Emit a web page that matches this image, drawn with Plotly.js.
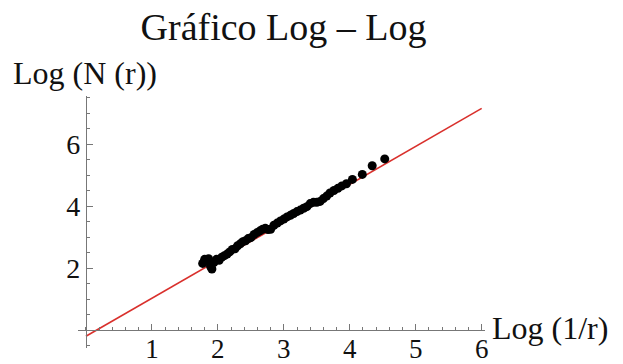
<!DOCTYPE html>
<html>
<head>
<meta charset="utf-8">
<script src="https://cdn.plot.ly/plotly-3.0.1.min.js"></script>
<style>html,body{margin:0;padding:0;background:#fff;}#chart{width:623px;height:364px;}</style>
</head>
<body>
<div id="chart"></div>
<script>
// Data points: Log(1/r) vs Log(N(r))
var logInvR = [1.77,1.80,1.83,1.86,1.89,1.91,1.94,1.98,2.02,2.06,2.10,2.14,2.18,2.22,2.26,2.30,2.34,2.38,2.42,2.46,2.50,2.55,2.60,2.64,2.68,2.72,2.76,2.80,2.85,2.90,2.95,3.00,3.05,3.10,3.15,3.20,3.25,3.30,3.35,3.40,3.45,3.50,3.55,3.60,3.65,3.70,3.76,3.82,3.88,3.95,4.04,4.19,4.34,4.53];
var logN = [2.15,2.28,2.22,2.30,2.05,1.97,2.18,2.28,2.25,2.35,2.40,2.45,2.52,2.60,2.62,2.72,2.78,2.85,2.88,2.95,2.98,3.08,3.15,3.20,3.25,3.28,3.24,3.25,3.38,3.45,3.52,3.58,3.65,3.70,3.76,3.82,3.87,3.93,3.98,4.08,4.12,4.12,4.15,4.24,4.32,4.42,4.50,4.57,4.65,4.72,4.86,5.02,5.30,5.52];
// Fitted line endpoints
var fitX = [0, 6];
var fitY = [-0.2, 7.15];
// Ticks
var xTicks = [1,2,3,4,5,6];
var yTicks = [2,4,6];

var xRange = [-0.12, 6.05];
var yRange = [-0.58, 7.55];

var serif = 'Liberation Serif, Times New Roman, serif';

var traces = [
  {x: fitX, y: fitY, mode: 'lines', line: {color: '#d9302c', width: 1.6}, hoverinfo: 'skip'},
  {x: logInvR, y: logN, mode: 'markers', marker: {color: '#000', size: 9}}
];

var layout = {
  width: 623, height: 364,
  margin: {l: 78, r: 138, t: 96, b: 16},
  paper_bgcolor: '#fff', plot_bgcolor: '#fff',
  showlegend: false,
  title: {text: 'Gráfico Log – Log', font: {family: serif, size: 38, color: '#111'},
          x: 0.505, xref: 'paper', xanchor: 'center', y: 1 - 27/364, yref: 'container', yanchor: 'middle'},
  xaxis: {
    range: xRange, anchor: 'free',
    position: (0 - yRange[0]) / (yRange[1] - yRange[0]),
    showgrid: false, zeroline: false, showline: true, linecolor: '#777', linewidth: 1,
    tickmode: 'array', tickvals: xTicks, ticks: 'inside', ticklen: 6, tickcolor: '#777',
    ticklabelstandoff: -5,
    tickfont: {family: serif, size: 27, color: '#111'},
    minor: {tickmode: 'linear', tick0: 0, dtick: 0.2, ticks: 'inside', ticklen: 3, tickcolor: '#777'}
  },
  yaxis: {
    range: yRange, anchor: 'free',
    position: (0 - xRange[0]) / (xRange[1] - xRange[0]),
    showgrid: false, zeroline: false, showline: true, linecolor: '#777', linewidth: 1,
    tickmode: 'array', tickvals: yTicks, ticks: 'inside', ticklen: 6, tickcolor: '#777',
    tickfont: {family: serif, size: 28, color: '#111'},
    minor: {tickmode: 'linear', tick0: 0, dtick: 0.5, ticks: 'inside', ticklen: 3, tickcolor: '#777'}
  },
  annotations: [
    {text: 'Log (N (r))', xref: 'paper', yref: 'paper', x: (11 - 78) / 407, y: (348 - 73) / 252,
     xanchor: 'left', yanchor: 'middle', showarrow: false, font: {family: serif, size: 32, color: '#111'}},
    {text: 'Log (1/r)', xref: 'paper', yref: 'paper', x: (490 - 78) / 407, y: (348 - 328) / 252,
     xanchor: 'left', yanchor: 'middle', showarrow: false, font: {family: serif, size: 32, color: '#111'}}
  ]
};

Plotly.newPlot('chart', traces, layout, {displayModeBar: false, staticPlot: true});
</script>
</body>
</html>
